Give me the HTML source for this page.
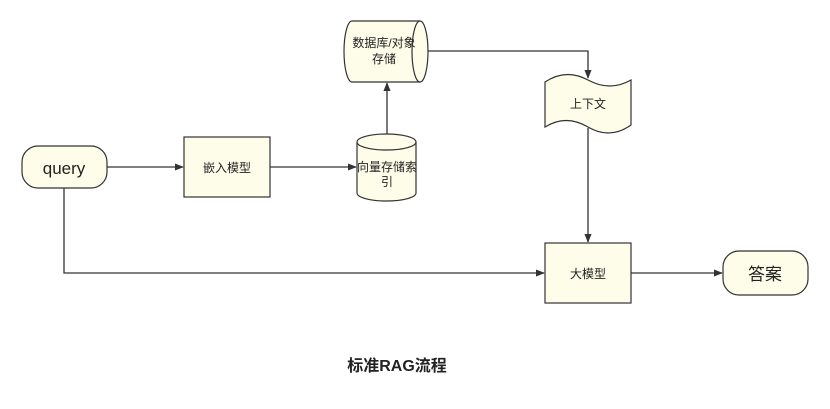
<!DOCTYPE html>
<html><head><meta charset="utf-8"><style>
html,body{margin:0;padding:0;background:#fff;}
svg text{font-family:"Liberation Sans","Noto Sans CJK SC",sans-serif;fill:#222;}
</style></head><body>
<svg width="830" height="404" viewBox="0 0 830 404" xmlns="http://www.w3.org/2000/svg">
<defs><marker id="a" viewBox="0 0 10 10" refX="9" refY="5" markerWidth="9" markerHeight="9" orient="auto" markerUnits="userSpaceOnUse"><path d="M0,1 L10,5 L0,9 z" fill="#333"/></marker></defs>
<g stroke="#333" stroke-width="1.3" fill="none">
<path d="M107,167 H183" marker-end="url(#a)"/>
<path d="M270,167 H356" marker-end="url(#a)"/>
<path d="M387,134 V83" marker-end="url(#a)"/>
<path d="M428,51 H588 V78" marker-end="url(#a)"/>
<path d="M588,128 V242" marker-end="url(#a)"/>
<path d="M64,188 V273 H544" marker-end="url(#a)"/>
<path d="M631,273 H722" marker-end="url(#a)"/>
</g>
<g stroke="#333" stroke-width="1.2" fill="#fdfde9">
<rect x="22" y="146" width="85" height="42" rx="16"/>
<rect x="184" y="137" width="86" height="60"/>
<path d="M357,142 A29.5,8 0 0 1 416,142 V193 A29.5,8 0 0 1 357,193 Z"/>
<path d="M357,142 A29.5,8 0 0 0 416,142" fill="none"/>
<path d="M352,21 H420 A8,30.5 0 0 1 420,82 H352 A8,30.5 0 0 1 352,21 Z"/>
<path d="M420,21 A8,30.5 0 0 0 420,82" fill="none"/>
<path d="M545,82 Q566,68 588,80 T631,80 V125 Q610,140 588,127 T545,127 Z"/>
<rect x="545" y="243" width="86" height="60"/>
<rect x="723" y="251" width="85" height="44" rx="16"/>
</g>
<text x="64" y="174" font-size="17" text-anchor="middle">query</text>
<text x="227" y="172" font-size="12" text-anchor="middle">嵌入模型</text>
<text x="387" y="171" font-size="12" text-anchor="middle">向量存储索</text>
<text x="387" y="186" font-size="12" text-anchor="middle">引</text>
<text x="384" y="47" font-size="12" text-anchor="middle">数据库/对象</text>
<text x="384" y="63" font-size="12" text-anchor="middle">存储</text>
<text x="588" y="108" font-size="12" text-anchor="middle">上下文</text>
<text x="588" y="278" font-size="12" text-anchor="middle">大模型</text>
<text x="765" y="280" font-size="17" text-anchor="middle">答案</text>
<text x="397" y="371" font-size="16" font-weight="bold" text-anchor="middle">标准RAG流程</text>
</svg>
</body></html>
